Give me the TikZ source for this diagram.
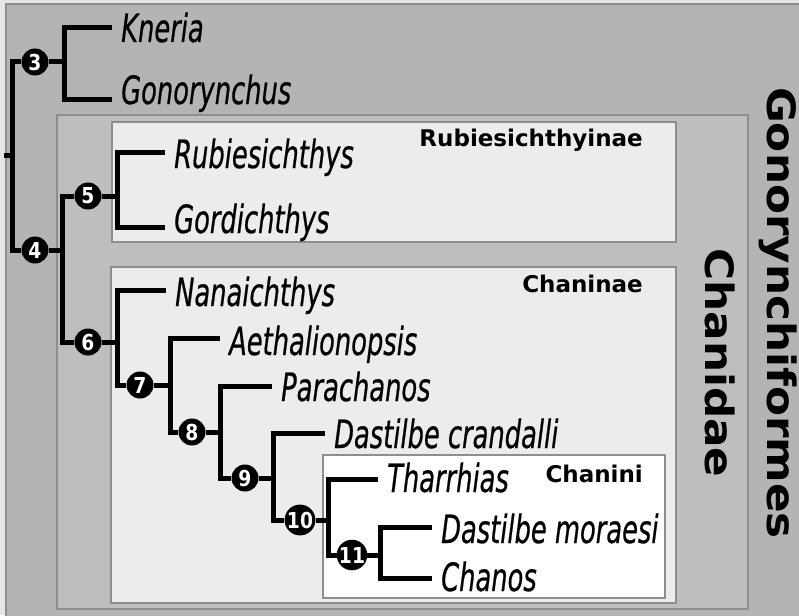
\documentclass[tikz,border=0pt]{standalone}
\usepackage{fontspec}
\setmainfont{DejaVu Sans}
\newfontfamily\leaffont[FakeStretch=0.66, FakeBold=0.5]{DejaVu Sans}
\newfontfamily\numfont[FakeStretch=0.85]{DejaVu Sans}
\newfontfamily\rankfont[FakeStretch=1.12]{DejaVu Sans}
\usepackage{tikz}
\usetikzlibrary{positioning, calc}

\definecolor{ordergray}{HTML}{B4B4B4}
\definecolor{familygray}{HTML}{BEBEBE}
\definecolor{subgray}{HTML}{ECECEC}
\definecolor{edgegray}{HTML}{8E8E8E}

\begin{document}
\begin{tikzpicture}[
  x=1pt, y=-1pt,
  clade/.style={circle, fill=black, minimum size=27pt, inner sep=0pt, text=white,
    font=\numfont\bfseries\fontsize{22pt}{22pt}\selectfont},
  branch/.style={line width=5pt, black, line join=miter},
  taxon/.style={anchor=base west, inner sep=0pt, xshift=9pt,
    font=\leaffont\itshape\fontsize{39pt}{40pt}\selectfont},
  rankbox/.style={draw=edgegray, line width=1.2pt, fill=#1},
  rank/.style={anchor=base east, inner sep=0pt, font=\bfseries\fontsize{23pt}{24pt}\selectfont},
  bigrank/.style={anchor=base, rotate=-90, inner sep=0pt, font=\rankfont\bfseries\fontsize{39pt}{40pt}\selectfont}
]
  \useasboundingbox (0,0) rectangle (799,615);
  \fill[gray!20] (0,0) rectangle (799,615);
  % nested groups
  \draw[rankbox=ordergray] (6,4) rectangle (810,625);
  \draw[rankbox=familygray] (57,115) rectangle (748,609);
  \draw[rankbox=subgray] (112,122) rectangle (676,242);
  \draw[rankbox=subgray] (111,267) rectangle (676,603);
  \draw[rankbox=white] (323,455) rectangle (665,598);
  % group names
  \node[rank] (rubi) at (643,146) {Rubiesichthyinae};
  \node[rank] (chan) at (643,292) {Chaninae};
  \node[rank] (chni) at (643,482) {Chanini};
  \node[bigrank] (gono) at (767,313) {Gonorynchiformes};
  \node[bigrank] (chda) at (705,363) {Chanidae};
  % joints of the tree
  \coordinate (root) at (4,155);
  \coordinate (j0) at (12,155);
  \foreach \j/\x/\y in {3/64/62, 4/62/250, 5/117/196, 6/117/342, 7/170/385,
                        8/220/432, 9/273/478, 10/328/520, 11/380/555} {
    \coordinate (j\j) at (\x,\y);
  }
  % numbered clades
  \foreach \n/\x/\y in {3/35/62, 4/35/250, 5/88/196, 6/88/342, 7/140/385,
                        8/192/432, 9/245/478, 10/300/520, 11/352/555} {
    \node[clade] (n\n) at (\x,\y) {\n};
  }
  % leaves
  \foreach \t/\x/\y/\dy/\name in {kne/112/28/-14/Kneria, gon/112/100/-4/Gonorynchus,
      rub/165/152/-16/Rubiesichthys, gor/165/227/-6/Gordichthys,
      nan/166/290/-16/Nanaichthys, aet/220/338/-17/Aethalionopsis,
      par/272/386/-15/Parachanos, dcr/325/433/-15/Dastilbe crandalli,
      tha/378/479/-13/Tharrhias, dmo/432/527/-16/Dastilbe moraesi,
      cha/432/578/-13/Chanos} {
    \coordinate (t-\t) at (\x,\y);
    \node[taxon, yshift=\dy] (l-\t) at (t-\t) {\name};
  }
  % branches
  \draw[branch] (root) -- (j0);
  \draw[branch] (n3) -| (j0) |- (n4);
  \draw[branch] (n3) -- (j3);
  \draw[branch] (t-kne) -| (j3) |- (t-gon);
  \draw[branch] (n4) -- (j4);
  \draw[branch] (n5) -| (j4) |- (n6);
  \draw[branch] (n5) -- (j5);
  \draw[branch] (t-rub) -| (j5) |- (t-gor);
  \draw[branch] (n6) -- (j6);
  \draw[branch] (t-nan) -| (j6) |- (n7);
  \draw[branch] (n7) -- (j7);
  \draw[branch] (t-aet) -| (j7) |- (n8);
  \draw[branch] (n8) -- (j8);
  \draw[branch] (t-par) -| (j8) |- (n9);
  \draw[branch] (n9) -- (j9);
  \draw[branch] (t-dcr) -| (j9) |- (n10);
  \draw[branch] (n10) -- (j10);
  \draw[branch] (t-tha) -| (j10) |- (n11);
  \draw[branch] (n11) -- (j11);
  \draw[branch] (t-dmo) -| (j11) |- (t-cha);
\end{tikzpicture}
\end{document}
